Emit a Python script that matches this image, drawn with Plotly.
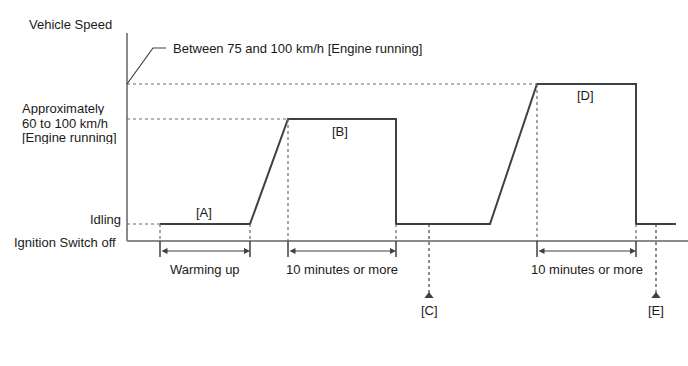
import plotly.graph_objects as go

# ---- data (diagram units: x = time position, y = height above "Ignition Switch off" baseline) ----
profile_t = [160, 250, 288, 396, 396, 490, 537, 636, 636, 676]
profile_v = [17, 17, 122, 122, 17, 17, 157, 157, 17, 17]
idle_level = 17
b_level = 122
d_level = 157
axis_top = 208
dim_level = -10
guide_bottom = -16
span_starts = [160, 288, 537]
span_ends = [250, 396, 636]
span_labels = ["Warming up", "10 minutes or more", "10 minutes or more"]
point_t = [429, 656]
point_labels = ["[C]", "[E]"]
stage_t = [204, 340, 585]
stage_v = [29, 110, 146]
stage_labels = ["[A]", "[B]", "[D]"]
approx_lines = ["Approximately", "60 to 100 km/h", "[Engine running]"]
approx_v = [133, 118.5, 104]

LINE = "#3c4146"
AXIS = "#8a8a8a"
TXT = "#1a1a1a"
FONT = "Liberation Sans, Arial, sans-serif"
FS = 13

fig = go.Figure()

# speed profile
fig.add_trace(go.Scatter(x=profile_t, y=profile_v, mode="lines",
                         line=dict(color=LINE, width=2), hoverinfo="skip"))

shapes = []
# axes
shapes.append(dict(type="line", x0=127, x1=127, y0=0, y1=axis_top, line=dict(color=AXIS, width=2)))
shapes.append(dict(type="line", x0=127, x1=688, y0=0, y1=0, line=dict(color=AXIS, width=2)))
# dashed level lines
dash = dict(color="#6a6a6a", width=1.2, dash="3px,3px")
shapes.append(dict(type="line", x0=127, x1=160, y0=idle_level, y1=idle_level, line=dash))
shapes.append(dict(type="line", x0=127, x1=288, y0=b_level, y1=b_level, line=dash))
shapes.append(dict(type="line", x0=127, x1=537, y0=d_level, y1=d_level, line=dash))
# vertical guides
for t, top in [(160, idle_level), (250, idle_level), (288, b_level), (396, idle_level),
               (537, d_level), (636, idle_level)]:
    shapes.append(dict(type="line", x0=t, x1=t, y0=top, y1=0, line=dash))
    shapes.append(dict(type="line", x0=t, x1=t, y0=0, y1=guide_bottom, line=dict(color=LINE, width=1.5)))
# [C] [E] dashed pointers
for t in point_t:
    shapes.append(dict(type="line", x0=t, x1=t, y0=idle_level, y1=-52, line=dict(color=LINE, width=1.2, dash="3px,3px")))
# leader line for "Between 75 and 100"
shapes.append(dict(type="path", path=f"M 127 {d_level} L 153 193 L 166 193",
                   line=dict(color=LINE, width=1.2)))

annotations = []
# dimension arrows
for s, e, lab in zip(span_starts, span_ends, span_labels):
    annotations.append(dict(x=e, y=dim_level, ax=s, ay=dim_level, xref="x", yref="y",
                            axref="x", ayref="y", showarrow=True, arrowhead=2, startarrowhead=2,
                            arrowside="end+start", arrowsize=1, arrowwidth=1.2,
                            arrowcolor=LINE, text=""))
    annotations.append(dict(x=(s + e) / 2, y=-28, text=lab, showarrow=False,
                            font=dict(size=FS, color=TXT, family=FONT)))
# point labels with up triangles
fig.add_trace(go.Scatter(x=point_t, y=[-55, -55], mode="markers",
                         marker=dict(symbol="triangle-up", size=8, color=LINE),
                         hoverinfo="skip"))
for t, lab in zip(point_t, point_labels):
    annotations.append(dict(x=t, y=-69, text=lab, showarrow=False,
                            font=dict(size=FS, color=TXT, family=FONT)))
for t, v, lab in zip(stage_t, stage_v, stage_labels):
    annotations.append(dict(x=t, y=v, text=lab, showarrow=False,
                            font=dict(size=FS, color=TXT, family=FONT)))

# left labels
annotations += [
    dict(x=114, y=217, text="Vehicle Speed", xanchor="right", showarrow=False,
         font=dict(size=FS, color=TXT, family=FONT)),
    dict(x=171, y=193, text="Between 75 and 100 km/h [Engine running]", xanchor="left",
         showarrow=False, font=dict(size=FS, color=TXT, family=FONT)),
    dict(x=123, y=22, text="Idling", xanchor="right", showarrow=False,
         font=dict(size=FS, color=TXT, family=FONT)),
    dict(x=118, y=-1, text="Ignition Switch off", xanchor="right", showarrow=False,
         font=dict(size=FS, color=TXT, family=FONT)),
]
for txt, v in zip(approx_lines, approx_v):
    annotations.append(dict(x=21, y=v, text=txt, xanchor="left", showarrow=False,
                            height=14, borderpad=0, valign="middle",
                            font=dict(size=FS, color=TXT, family=FONT)))

fig.update_layout(
    width=688, height=366, margin=dict(l=0, r=0, t=0, b=0),
    plot_bgcolor="white", paper_bgcolor="white", showlegend=False,
    xaxis=dict(range=[0, 688], visible=False, fixedrange=True),
    yaxis=dict(range=[-125, 241], visible=False, fixedrange=True),
    shapes=shapes, annotations=annotations,
)
fig.write_html("out.html", config={"displayModeBar": False})
